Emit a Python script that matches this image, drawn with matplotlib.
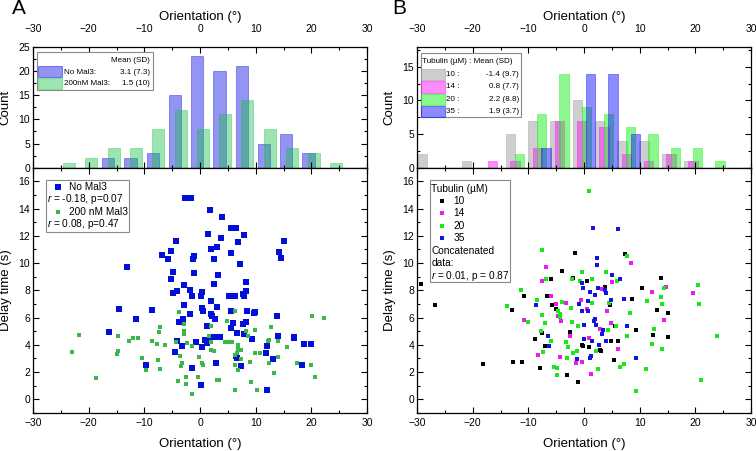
import matplotlib
matplotlib.use("Agg")
import matplotlib.pyplot as plt
from matplotlib.patches import Rectangle
from matplotlib.lines import Line2D
from matplotlib.ticker import MultipleLocator

plt.rcParams["font.family"] = ["Liberation Sans", "DejaVu Sans"]
plt.rcParams["mathtext.fontset"] = "custom"
plt.rcParams["mathtext.it"] = "Liberation Sans:italic"
plt.rcParams["mathtext.rm"] = "Liberation Sans"

# ---------------- data: panel A ----------------
hist_a_nomal_x = [-16.5, -12.5, -8.5, -4.5, -0.5, 3.5, 7.5, 11.5, 15.5, 19.5]
hist_a_nomal_n = [2, 2, 3, 15, 23, 20, 21, 5, 7, 3]
hist_a_mal3_x = [-23.5, -19.5, -15.5, -11.5, -7.5, -3.5, 0.5, 4.5, 8.5, 12.5, 16.5, 20.5, 24.5]
hist_a_mal3_n = [1, 2, 4, 4, 8, 12, 8, 11, 14, 8, 4, 3, 1]

nomal_x = [-2.7, -1.6, -4.4, -6.8, -5.7, -5.2, -1.0, -1.2, -13.05, -4.8, -5.2, -1.1,
           -2.9, -4.2, -4.9, -1.8, -1.5, -14.5, -8.7, -2.8, -1.8, -11.5, -3.0, -3.8,
           -16.3, -4.1, -3.2, -0.8, -4.5, -9.7, -1.4,
           1.74, 4.0, 5.5, 6.4, 1.5, 3.7, 7.9, 5.5, 6.9, 1.9, 3.0, 2.45, 7.2, 15.0,
           14.2, 14.6, 3.2, 2.6, 8.2, 0.36, 0.24, 8.3, 7.7, 7.9, 5.15, 6.2, 2.0, 0.4,
           0.6, 3.05, 2.0, 2.1, 2.75, 5.5, 8.5, 9.9, 9.7, 13.9, 6.0, 5.5, 7.8, 8.3,
           7.9, 6.65, 9.3, 1.3, 3.6, 2.45, 0.96, 1.44, 0.4, 1.26, 14.0, 16.8, 16.8,
           12.0, 11.9, 18.7, 20.0, 6.4, 6.6, 13.2, 2.8, 7.3, 18.4, 12.0, 0.24]
nomal_y = [14.8, 14.8, 11.6, 10.56, 10.3, 10.9, 10.5, 10.27, 9.68, 9.34, 8.8, 9.3,
           8.36, 7.97, 7.8, 8.04, 7.6, 6.6, 6.54, 6.9, 6.3, 5.9, 5.9, 5.66,
           4.98, 4.26, 3.95, 4.2, 3.5, 2.52, 2.28,
           13.92, 13.36, 12.6, 12.57, 12.1, 11.86, 12.06, 10.76, 11.54, 11.05, 11.2,
           10.27, 9.9, 11.6, 10.8, 10.34, 9.14, 8.5, 8.63, 7.87, 7.62, 7.94, 7.7, 7.6,
           7.55, 7.57, 7.23, 6.7, 6.5, 6.76, 6.27, 6.1, 5.9, 6.45, 6.47, 6.4, 6.35,
           6.1, 5.59, 5.22, 5.51, 5.66, 4.83, 4.85, 4.41, 5.37, 4.56, 4.58, 4.34,
           4.31, 3.85, 4.12, 4.68, 4.6, 4.5, 3.95, 3.4, 4.07, 4.07, 3.16, 3.0, 2.94,
           2.7, 2.45, 2.55, 0.71, 1.08]

mal3_x = [-21.7, -23.05, -18.6, -14.8, -14.7, -14.9, -12.75, -12.1, -11.2, -10.4,
          -9.7, -8.6, -7.7, -7.6, -7.2, -7.3, -7.1, -6.3, -4.4, -3.8, -3.6, -3.4,
          -3.2, -3.9, -2.8, -2.9, -2.8, -2.4, -2.5, -2.5, -1.4, -1.5, -0.4, -0.1,
          6.35, 1.9, 1.6, 4.85, 2.0, 2.5, 2.0, 0.4, 0.54, 4.55, 5.2, 5.8, 6.8, 8.2,
          8.6, 9.8, 12.7, 12.2, 12.45, 14.0, 15.6, 20.1, 22.2, 6.8, 7.3, 6.7, 7.3,
          6.35, 6.2, 6.8, 8.9, 9.9, 10.8, 12.45, 14.1, 13.3, 17.4, 20.0, 20.7, 3.5,
          3.05, 6.2, 9.1, 10.2]
mal3_y = [4.7, 3.46, 1.57, 4.63, 3.53, 3.36, 4.31, 4.49, 4.49, 3.01,
          2.18, 4.31, 4.09, 2.89, 2.23, 4.98, 5.34, 4.0, 4.19, 6.4, 3.16, 2.45,
          2.67, 1.32, 5.54, 5.05, 4.8, 4.12, 1.67, 1.15, 0.37, 3.95, 1.62, 3.1,
          6.52, 5.42, 4.68, 5.74, 4.24, 3.53, 3.63, 2.67, 2.55, 4.24, 4.19, 4.24,
          4.02, 5.05, 4.68, 5.1, 5.29, 4.26, 4.36, 4.26, 3.82, 6.15, 6.0, 3.7, 3.65,
          3.38, 2.99, 3.26, 2.55, 2.13, 2.72, 3.38, 3.38, 2.7, 3.14, 1.91, 2.65,
          2.55, 1.67, 1.42, 1.42, 0.71, 1.3, 0.71]

# ---------------- data: panel B ----------------
hist_b_t10_x = [-29.0, -21.1, -13.2, -9.2, -5.2, -1.2, 2.8, 6.8, 10.8, 14.8, 18.8]
hist_b_t10_n = [2, 1, 5, 7, 7, 10, 7, 4, 4, 2, 1]
hist_b_t14_x = [-16.4, -12.4, -8.4, -4.4, -0.4, 3.6, 7.6, 11.6, 15.6, 19.6]
hist_b_t14_n = [1, 1, 3, 7, 7, 6, 2, 1, 2, 1]
hist_b_t20_x = [-11.6, -7.6, -3.6, 0.4, 4.4, 8.4, 12.4, 16.4, 20.4, 24.4]
hist_b_t20_n = [2, 8, 14, 9, 8, 6, 5, 3, 3, 1]
hist_b_t35_x = [-6.8, 1.2, 5.2, 9.2]
hist_b_t35_n = [3, 14, 14, 5]

t10_x = [-29.3, -26.8, -18.1, -12.7, -11.1, -12.9, -10.8, -7.9, -8.8, -6.0, -6.6,
         -5.8, -5.0, -7.5, -7.0, -4.0, -1.7, -1.9, -2.5, -3.1, -1.1, -0.4,
         7.4, 13.8, 10.4, 3.8, 0.5, 8.7, 13.05, 15.1, 4.6, 1.86, 5.5, 9.3, 12.4,
         15.1, 4.85, 6.05, -0.1, 0.96, 2.8, 3.05, 5.4]
t10_y = [8.48, 6.94, 2.57, 2.72, 2.72, 6.54, 7.6, 2.33, 4.46, 8.8, 7.55,
         6.89, 6.6, 4.85, 3.92, 9.39, 10.76, 8.9, 4.93, 1.81, 1.27, 4.0,
         10.64, 8.9, 8.16, 8.24, 8.65, 7.33, 6.54, 6.35, 6.94, 5.78, 5.37, 5.07,
         4.73, 4.61, 4.29, 4.29, 3.95, 3.82, 3.65, 3.58, 2.92]

t14_x = [-6.8, -7.6, -6.0, -10.8, -5.1, -3.2, -4.1, -4.7, -2.5, -8.3, -4.3, -1.5,
         -0.6, 8.4, 5.0, 14.8, 12.2, 19.6, 4.1, 0.5, 14.3, 4.9, 2.9, 0.84, 6.1,
         1.26, -0.4, 3.3]
t14_y = [9.75, 8.68, 7.6, 5.8, 7.0, 7.06, 5.78, 6.1, 4.63, 3.26, 3.14, 2.67,
         7.28, 10.0, 8.6, 8.28, 7.87, 7.84, 6.5, 6.64, 5.8, 5.59, 5.17, 4.51, 3.7,
         1.89, 2.72, 8.1]

t20_x = [-7.6, -6.8, -2.2, -0.8, -0.3, -11.4, -13.9, -8.4, -7.6, -7.0, -10.1, -7.8,
         -5.9, -7.3, -4.9, -4.8, -5.4, -3.9, -4.7, -4.4, -4.3, -2.3, -3.3, -2.9,
         -2.1, -1.1, -1.2, -2.0, -3.1,
         0.84, 7.8, 4.0, 1.44, 5.9, 4.55, 1.5, 8.26, 5.8, 4.3, 7.8, 14.4, 20.4,
         20.6, 11.3, 13.8, 14.1, 12.5, 12.3, 14.1, 23.9, 21.0, 11.2, 6.5, 7.1, 2.6,
         2.1, 9.3]
t20_y = [10.98, 8.8, 8.85, 8.65, 9.34, 8.04, 6.84, 7.3, 6.2, 5.61, 5.66, 5.02,
         4.31, 3.5, 2.28, 1.79, 2.35, 7.13, 6.45, 6.27, 6.03, 6.72, 4.24, 3.87,
         5.66, 5.42, 3.58, 3.4, 3.04,
         15.3, 10.5, 9.31, 8.8, 8.65, 7.06, 7.06, 6.35, 5.39, 5.1, 4.68, 8.14, 8.38,
         7.0, 7.25, 7.48, 7.03, 5.17, 4.09, 3.68, 4.68, 1.4, 2.2, 2.4, 2.6, 2.23,
         3.58, 0.61]

t35_x = [-8.7, -6.5, -6.3, -0.9, -1.2, -0.3, -0.2, -0.3, 0.0,
         1.56, 6.1, 2.3, 2.3, 5.1, 6.5, 2.6, 3.7, 4.0, 2.0, 1.1, 0.66, 4.9, 7.2,
         0.66, 1.9, 1.86, 2.2, 0.0, 3.5, 3.2, 7.7, 3.95, 1.44, 2.7, 1.3, 1.1, 9.3]
t35_y = [6.9, 4.63, 3.92, 7.0, 2.97, 8.55, 8.16, 6.45, 4.44,
         12.57, 12.52, 10.34, 9.85, 9.09, 8.85, 8.16, 8.06, 7.84, 7.67, 7.87, 7.25,
         7.3, 7.38, 6.47, 5.9, 5.76, 5.49, 5.47, 5.1, 4.8, 5.37, 4.26, 4.31, 4.02,
         3.2, 3.0, 3.04]

# ---------------- figure ----------------
W, H = 756, 451
fig = plt.figure(figsize=(W / 100, H / 100), dpi=100)


def frac(x, y):
    return x / W, 1 - y / H


def axes_px(x0, x1, y0, y1):
    return fig.add_axes([x0 / W, 1 - y1 / H, (x1 - x0) / W, (y1 - y0) / H])


def style(ax, ymaj, ymin):
    ax.set_xlim(-30, 30)
    ax.xaxis.set_major_locator(MultipleLocator(10))
    ax.xaxis.set_minor_locator(MultipleLocator(5))
    ax.yaxis.set_major_locator(MultipleLocator(ymaj))
    ax.yaxis.set_minor_locator(MultipleLocator(ymin))
    ax.tick_params(which="both", direction="in", top=True, right=True,
                   labelsize=7.5, width=0.8)
    ax.tick_params(which="major", length=4.5)
    ax.tick_params(which="minor", length=2.5)
    ax.tick_params(axis="y", pad=2)
    for s in ax.spines.values():
        s.set_linewidth(0.9)


def fig_box(x0, y0, x1, y1):
    fig.add_artist(Rectangle(frac(x0, y1), (x1 - x0) / W, (y1 - y0) / H,
                             transform=fig.transFigure, fc="white",
                             ec="#8a8a8a", lw=0.8))


def fig_patch(x0, y0, x1, y1, color, alpha):
    fig.add_artist(Rectangle(frac(x0, y1), (x1 - x0) / W, (y1 - y0) / H,
                             transform=fig.transFigure, fc=color, alpha=alpha,
                             ec=color, lw=0.8))


def fig_txt(x, y, s, size, ha="left"):
    fig.text(*frac(x, y), s, fontsize=size, ha=ha, va="center")


def fig_marker(x, y, color, ms):
    fig.add_artist(Line2D([x / W], [1 - y / H], transform=fig.transFigure,
                          marker="s", ms=ms, color=color, ls="none", mew=0))


panels = [(33, 367), (417, 751)]
HT, HB, SB = 46.7, 167.7, 413

BLUE_A, GREEN_A = "#0000e0", "#14c046"
for i, (x0, x1) in enumerate(panels):
    axh = axes_px(x0, x1, HT, HB)
    axs = axes_px(x0, x1, HB, SB)

    if i == 0:
        axh.bar(hist_a_nomal_x, hist_a_nomal_n, width=2.2, color=BLUE_A,
                alpha=0.42, ec=BLUE_A, lw=0.6)
        axh.bar(hist_a_mal3_x, hist_a_mal3_n, width=2.15, color=GREEN_A,
                alpha=0.42, ec=GREEN_A, lw=0.6)
        axh.set_ylim(0, 25)
        style(axh, 5, 2.5)
        axs.scatter(nomal_x, nomal_y, s=15, marker="s", color="#0010d8", lw=0)
        axs.scatter(mal3_x, mal3_y, s=9, marker="s", color="#3cb84a", lw=0)
    else:
        for xs, ns, c in [(hist_b_t10_x, hist_b_t10_n, "#9a9a9a"),
                          (hist_b_t14_x, hist_b_t14_n, "#ff10ff"),
                          (hist_b_t20_x, hist_b_t20_n, "#10f010"),
                          (hist_b_t35_x, hist_b_t35_n, "#1010ff")]:
            axh.bar(xs, ns, width=1.68, color=c, alpha=0.48, ec=c, lw=0.6)
        axh.set_ylim(0, 18)
        style(axh, 5, 2.5)
        for xs, ys, c in [(t10_x, t10_y, "#000000"), (t14_x, t14_y, "#f018f0"),
                          (t20_x, t20_y, "#18e818"), (t35_x, t35_y, "#1414e0")]:
            axs.scatter(xs, ys, s=9, marker="s", color=c, lw=0)

    axh.tick_params(labeltop=True, labelbottom=False, axis="x", pad=9.5)
    axh.xaxis.set_label_position("top")
    axh.set_xlabel("Orientation (°)", fontsize=9.5)
    axh.xaxis.set_label_coords(0.5, 1.222)
    axh.set_ylabel("Count", fontsize=9.5)
    axh.yaxis.set_label_coords(-0.066, 0.5)

    axs.set_ylim(-1, 17)
    style(axs, 2, 1)
    axs.tick_params(axis="x", pad=3.5)
    axs.set_yticks(range(0, 17, 2))
    axs.set_xlabel("Orientation (°)", fontsize=9.5)
    axs.xaxis.set_label_coords(0.5, -0.103)
    axs.set_ylabel("Delay time (s)", fontsize=9.5)
    axs.yaxis.set_label_coords(-0.062, 0.5)

fig.text(*frac(18.5, 9), "A", fontsize=15, ha="center", va="center")
fig.text(*frac(399, 9), "B", fontsize=15, ha="center", va="center")

# legend: A histogram
fig_box(36.7, 51.5, 152.7, 90)
fig_txt(150, 60.7, "Mean (SD)", 5.8, ha="right")
fig_patch(38.3, 66, 61.7, 77, BLUE_A, 0.42)
fig_patch(38.3, 78.3, 61.7, 89.3, GREEN_A, 0.42)
fig_txt(64, 72, "No Mal3:", 5.8)
fig_txt(150, 72, "3.1 (7.3)", 5.8, ha="right")
fig_txt(64, 83.7, "200nM Mal3:", 5.8)
fig_txt(150, 83.7, "1.5 (10)", 5.8, ha="right")

# legend: A scatter
fig_box(45.7, 180, 129, 231.7)
fig_marker(58.3, 186.7, "#0010d8", 3.8)
fig_txt(69.3, 186.7, "No Mal3", 7.3)
fig_txt(46.7, 199, "$r$ = -0.18, p=0.07", 7.3)
fig_marker(58.3, 211.7, "#3cb84a", 3.0)
fig_txt(69.3, 211.7, "200 nM Mal3", 7.3)
fig_txt(46.7, 224.3, "$r$ = 0.08, p=0.47", 7.3)

# legend: B histogram
fig_box(420.7, 53, 520.5, 117.3)
fig_txt(422.3, 61.5, "Tubulin (µM) : Mean (SD)", 5.8)
rows_b = [("10 :", "-1.4 (9.7)", "#9a9a9a", 74.5),
          ("14 :", "0.8 (7.7)", "#ff10ff", 87.0),
          ("20 :", "2.2 (8.8)", "#10f010", 99.3),
          ("35 :", "1.9 (3.7)", "#1010ff", 111.3)]
for lab, val, c, yy in rows_b:
    fig_patch(420.7, yy - 5.5, 445, yy + 5.5, c, 0.48)
    fig_txt(446.5, yy, lab, 5.8)
    fig_txt(519, yy, val, 5.8, ha="right")

# legend: B scatter
fig_box(429.7, 180, 509.7, 281.7)
fig_txt(431.3, 189, "Tubulin (µM)", 7.3)
for lab, c, yy in [("10", "#000000", 200.7), ("14", "#f018f0", 213.3),
                   ("20", "#18e818", 225.7), ("35", "#1414e0", 237.7)]:
    fig_marker(442.3, yy, c, 3.0)
    fig_txt(453.3, yy, lab, 7.3)
fig_txt(431.3, 250.7, "Concatenated", 7.3)
fig_txt(431.3, 263.3, "data:", 7.3)
fig_txt(431.3, 275.7, "$r$ = 0.01, p = 0.87", 7.3)

fig.savefig("out.png", dpi=100)
